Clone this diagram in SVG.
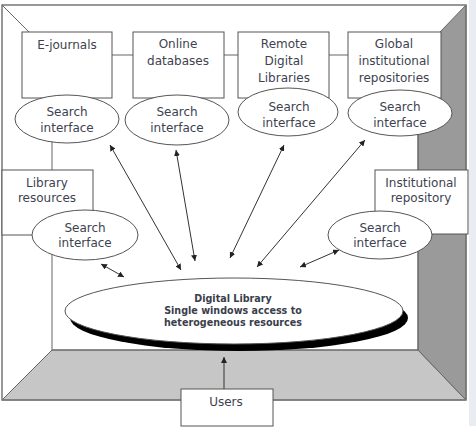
<svg xmlns="http://www.w3.org/2000/svg" width="476" height="438" viewBox="0 0 476 438">
<defs>
<style>
.box{fill:#fff;stroke:#555;stroke-width:1}
.ell{fill:#fff;stroke:#555;stroke-width:1}
.wall{stroke:#666;stroke-width:1}
.t{font-family:"DejaVu Sans",Verdana,sans-serif;font-size:12px;fill:#3e4250;text-anchor:middle}
.tb{font-family:"DejaVu Sans",Verdana,sans-serif;font-size:9.6px;font-weight:bold;fill:#3a3e4c;text-anchor:middle}
.con{stroke:#333;stroke-width:1;fill:none}
</style>
<marker id="ah" viewBox="0 0 6 6" refX="6" refY="3" markerWidth="6" markerHeight="6" markerUnits="userSpaceOnUse" orient="auto-start-reverse">
<path d="M0,0 L6,3 L0,6 z" fill="#222"/>
</marker>
</defs>
<rect width="476" height="438" fill="#fff"/>
<rect x="469" y="0" width="7" height="426" fill="#e9edf2"/>
<g id="room">
<polygon points="52,350 418,350 466,400 2,400" fill="#c6c6c6" class="wall"/>
<polygon points="418,55 466,5 466,400 418,350" fill="#9a9a9a" class="wall"/>
<rect x="2" y="5" width="464" height="395" fill="none" stroke="#777" stroke-width="1.5"/>
<rect x="52" y="55" width="366" height="295" fill="none" class="wall"/>
<line x1="2" y1="5" x2="52" y2="55" class="wall"/>
</g>
<g id="connectors">
<line x1="110" y1="145" x2="181" y2="270" class="con" marker-start="url(#ah)" marker-end="url(#ah)"/>
<line x1="176" y1="150" x2="195" y2="261" class="con" marker-start="url(#ah)" marker-end="url(#ah)"/>
<line x1="284" y1="145" x2="230" y2="258" class="con" marker-start="url(#ah)" marker-end="url(#ah)"/>
<line x1="365" y1="140" x2="257" y2="267" class="con" marker-start="url(#ah)" marker-end="url(#ah)"/>
<line x1="101" y1="264" x2="124" y2="277" class="con" marker-start="url(#ah)" marker-end="url(#ah)"/>
<line x1="339" y1="250" x2="300" y2="267" class="con" marker-start="url(#ah)" marker-end="url(#ah)"/>
<line x1="224" y1="389" x2="224" y2="357" class="con" marker-end="url(#ah)"/>
</g>
<g id="ejournals">
<rect x="22" y="32" width="90" height="66" class="box"/>
<text x="67" y="49" class="t">E-journals</text>
</g>
<g id="online">
<rect x="133" y="32" width="91" height="66" class="box"/>
<text x="178" y="48" class="t">Online</text>
<text x="178" y="65" class="t">databases</text>
</g>
<g id="remote">
<rect x="238" y="32" width="91" height="66" class="box"/>
<text x="284" y="48" class="t">Remote</text>
<text x="284" y="65" class="t">Digital</text>
<text x="284" y="82" class="t">Libraries</text>
</g>
<g id="global">
<rect x="348" y="32" width="93" height="66" class="box"/>
<text x="394" y="48" class="t">Global</text>
<text x="394" y="65" class="t">institutional</text>
<text x="394" y="82" class="t">repositories</text>
</g>
<g id="si1">
<ellipse cx="67" cy="119" rx="52" ry="24" class="ell"/>
<text x="67" y="116" class="t">Search</text>
<text x="67" y="132" class="t">interface</text>
</g>
<g id="si2">
<ellipse cx="177" cy="120" rx="52" ry="25" class="ell"/>
<text x="177" y="116" class="t">Search</text>
<text x="177" y="132" class="t">interface</text>
</g>
<g id="si3">
<ellipse cx="288" cy="112" rx="50" ry="24" class="ell"/>
<text x="289" y="111" class="t">Search</text>
<text x="289" y="127" class="t">interface</text>
</g>
<g id="si4">
<ellipse cx="400" cy="113" rx="52" ry="23" class="ell"/>
<text x="400" y="111" class="t">Search</text>
<text x="400" y="127" class="t">interface</text>
</g>
<g id="library">
<rect x="2" y="170" width="91" height="65" class="box"/>
<text x="47" y="187" class="t">Library</text>
<text x="47" y="202" class="t">resources</text>
</g>
<g id="si5">
<ellipse cx="85" cy="235" rx="53" ry="25" class="ell"/>
<text x="85" y="232" class="t">Search</text>
<text x="85" y="247" class="t">interface</text>
</g>
<g id="institutional">
<rect x="375" y="170" width="93" height="64" class="box"/>
<text x="421" y="187" class="t">Institutional</text>
<text x="421" y="202" class="t">repository</text>
</g>
<g id="si6">
<ellipse cx="380" cy="235" rx="52" ry="24" class="ell"/>
<text x="380" y="232" class="t">Search</text>
<text x="380" y="247" class="t">interface</text>
</g>
<g id="digital-library">
<ellipse cx="239" cy="318" rx="169" ry="33" fill="#000"/>
<ellipse cx="234" cy="311" rx="169" ry="33" class="ell"/>
<text x="233" y="302" class="tb">Digital Library</text>
<text x="233" y="314" class="tb">Single windows access to</text>
<text x="233" y="326" class="tb">heterogeneous resources</text>
</g>
<g id="users">
<rect x="181" y="389" width="92" height="37" class="box"/>
<text x="226" y="406" class="t">Users</text>
</g>
</svg>
